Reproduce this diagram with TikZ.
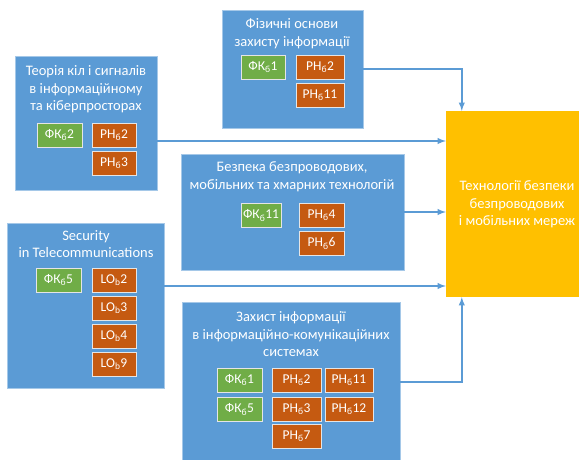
\documentclass[tikz,border=0pt]{standalone}
\usepackage{fontspec}
\setmainfont{Carlito}
\usetikzlibrary{arrows}
\definecolor{boxblue}{HTML}{5B9BD5}
\definecolor{boxgreen}{HTML}{70AD47}
\definecolor{boxorange}{HTML}{C55A11}
\definecolor{boxgold}{HTML}{FFC000}
\newcommand{\bsub}{\textsubscript{б}}
\newcommand{\lsub}{\textsubscript{b}}

\begin{document}
\begin{tikzpicture}[x=1pt,y=-1pt,
	disc_node/.style={rectangle,fill=boxblue,draw=boxblue!55!white,line width=0.8pt,inner sep=0pt},
	title_node/.style={text=white,align=center,font=\fontsize{14.5}{17.5}\selectfont},
	fk_node/.style={rectangle,fill=boxgreen,draw=white!80!gray,line width=0.8pt,text=white,minimum height=24pt,inner sep=0pt,font=\fontsize{13.5}{15}\selectfont},
	ph_node/.style={rectangle,fill=boxorange,draw=white!80!gray,line width=0.8pt,text=white,minimum height=24pt,inner sep=0pt,font=\fontsize{13.5}{15}\selectfont},
	link/.style={draw=boxblue,line width=1.8pt,-latex}]

		\useasboundingbox (0,0) rectangle (579,459);

		% big boxes
		\node[disc_node,minimum width=142pt,minimum height=134pt] (1) at (86,123) {};
		\node[disc_node,minimum width=141pt,minimum height=118pt] (2) at (292.5,69) {};
		\node[disc_node,minimum width=223pt,minimum height=116pt] (3) at (292.5,212) {};
		\node[disc_node,minimum width=157pt,minimum height=165pt] (4) at (85.5,305.5) {};
		\node[disc_node,minimum width=218pt,minimum height=160pt] (5) at (291,382) {};
		\node[rectangle,fill=boxgold,inner sep=0pt,minimum width=144pt,minimum height=186pt] (6) at (518,204) {};

		% titles
		\node[title_node] (1t) at (86,89.5) {Теорія кіл і сигналів\\в інформаційному\\та кіберпросторах};
		\node[title_node] (2t) at (292,33.5) {Фізичні основи\\захисту інформації};
		\node[title_node] (3t) at (292,176.5) {Безпека безпроводових,\\мобільних та хмарних технологій};
		\node[title_node] (4t) at (86,244) {Security\\in Telecommunications};
		\node[title_node] (5t) at (291,334.5) {Захист інформації\\в інформаційно-комунікаційних\\системах};
		\node[title_node] (6t) at (517,204.5) {Технології безпеки\\безпроводових\\і мобільних мереж};

		% competences and outcomes
		\node[fk_node,minimum width=45pt] (11) at (59.5,135) {ФК\bsub2};
		\node[ph_node,minimum width=44pt] (12) at (114,135) {РН\bsub2};
		\node[ph_node,minimum width=44pt] (13) at (114,163) {РН\bsub3};

		\node[fk_node,minimum width=44pt] (21) at (263,67) {ФК\bsub1};
		\node[ph_node,minimum width=48pt] (22) at (320,67) {РН\bsub2};
		\node[ph_node,minimum width=48pt] (23) at (320,95) {РН\bsub11};

		\node[fk_node,minimum width=40pt] (31) at (261,215.5) {ФК\bsub11};
		\node[ph_node,minimum width=45pt] (32) at (321.5,215.5) {РН\bsub4};
		\node[ph_node,minimum width=45pt] (33) at (321.5,243.5) {РН\bsub6};

		\node[fk_node,minimum width=45pt] (41) at (58.5,280) {ФК\bsub5};
		\node[ph_node,minimum width=44pt] (42) at (114,280) {LO\lsub2};
		\node[ph_node,minimum width=44pt] (43) at (114,308) {LO\lsub3};
		\node[ph_node,minimum width=44pt] (44) at (114,336) {LO\lsub4};
		\node[ph_node,minimum width=44pt] (45) at (114,364) {LO\lsub9};

		\node[fk_node,minimum width=45pt] (51) at (239.5,380) {ФК\bsub1};
		\node[fk_node,minimum width=45pt] (52) at (239.5,409.5) {ФК\bsub5};
		\node[ph_node,minimum width=49pt] (53) at (296.5,380) {РН\bsub2};
		\node[ph_node,minimum width=49pt] (54) at (296.5,409.5) {РН\bsub3};
		\node[ph_node,minimum width=49pt] (55) at (296.5,436.5) {РН\bsub7};
		\node[ph_node,minimum width=48pt] (56) at (349,380) {РН\bsub11};
		\node[ph_node,minimum width=48pt] (57) at (349,409.5) {РН\bsub12};

		% links to the target course
		\draw[link] ([yshift=-18pt]1.east) -- ([yshift=-18pt]1.east -| 6.west);
		\draw[link] (2.east) -| ([xshift=16pt]6.north west);
		\draw[link] (3.east) -- (3.east -| 6.west);
		\draw[link] ([yshift=19.5pt]4.east) -- ([yshift=19.5pt]4.east -| 6.west);
		\draw[link] (5.east) -| ([xshift=16pt]6.south west);
		\end{tikzpicture}
\end{document}
